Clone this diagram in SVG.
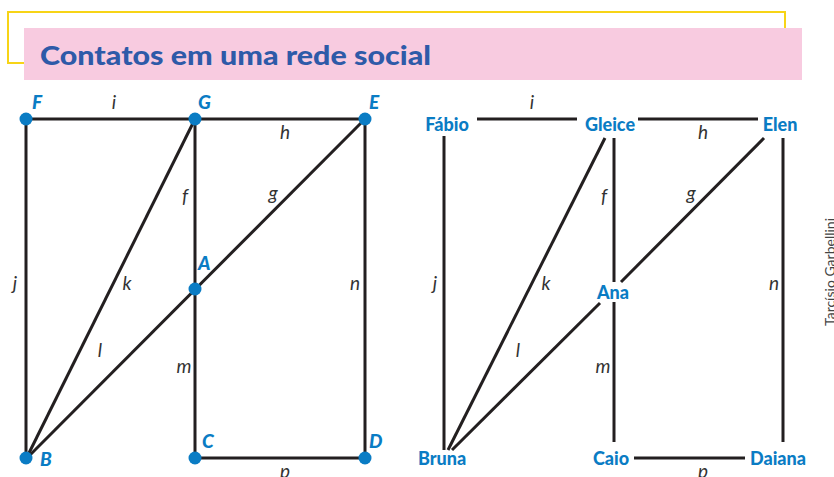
<svg xmlns="http://www.w3.org/2000/svg" width="834" height="477" viewBox="0 0 834 477">
<style>
.e{stroke:#231f20;stroke-width:3;fill:none;stroke-linecap:butt}
.dot{fill:#0a7cc4}
.nl{font-family:Lato,"Liberation Sans",sans-serif;font-weight:900;font-style:italic;font-size:19px;fill:#0a7cc4}
.nr{font-family:Lato,"Liberation Sans",sans-serif;font-weight:900;font-size:18px;fill:#0a7cc4;text-anchor:middle}
.el{font-family:Lato,"Liberation Sans",sans-serif;font-style:italic;font-weight:400;font-size:19px;fill:#333;text-anchor:middle}
</style>
<rect width="834" height="477" fill="#fff"/>
<g id="header">
<path d="M24,63 H8 V12 H785 V28" fill="none" stroke="#f7d417" stroke-width="2"/>
<rect x="24" y="28" width="778" height="52" fill="#f8cbe0"/>
<text x="40" y="65" font-family="Lato,'Liberation Sans',sans-serif" font-weight="900" font-size="26" fill="#2e5aa8" textLength="391" lengthAdjust="spacingAndGlyphs">Contatos em uma rede social</text>
</g>
<g id="connectors">
<line class="e" x1="26" y1="119" x2="365" y2="119"/>
<line class="e" x1="26" y1="119" x2="26" y2="458"/>
<line class="e" x1="195" y1="119" x2="195" y2="458"/>
<line class="e" x1="365" y1="119" x2="365" y2="458"/>
<line class="e" x1="195" y1="458" x2="365" y2="458"/>
<line class="e" x1="195" y1="119" x2="27" y2="457"/>
<line class="e" x1="365" y1="119" x2="28" y2="457"/>
<line class="e" x1="477" y1="119" x2="577" y2="119"/>
<line class="e" x1="638" y1="119" x2="758" y2="119"/>
<line class="e" x1="444" y1="136" x2="444" y2="450"/>
<line class="e" x1="614" y1="138" x2="614" y2="282"/>
<line class="e" x1="605" y1="138" x2="448" y2="450"/>
<line class="e" x1="764" y1="138" x2="621" y2="282"/>
<line class="e" x1="783" y1="138" x2="783" y2="442"/>
<line class="e" x1="614" y1="302" x2="614" y2="442"/>
<line class="e" x1="600" y1="303" x2="452" y2="450"/>
<line class="e" x1="634" y1="458" x2="745" y2="458"/>
</g>
<g id="edge-labels">
<text class="el" x="114" y="109">i</text>
<text class="el" x="285" y="139">h</text>
<text class="el" x="185" y="203">f</text>
<text class="el" x="273" y="200">g</text>
<text class="el" x="15" y="290">j</text>
<text class="el" x="127" y="290">k</text>
<text class="el" x="355" y="290">n</text>
<text class="el" x="100" y="357">l</text>
<text class="el" x="184" y="373">m</text>
<text class="el" x="285" y="478">p</text>
<text class="el" x="532" y="109">i</text>
<text class="el" x="703" y="139">h</text>
<text class="el" x="604" y="203">f</text>
<text class="el" x="691" y="200">g</text>
<text class="el" x="435" y="290">j</text>
<text class="el" x="546" y="290">k</text>
<text class="el" x="774" y="290">n</text>
<text class="el" x="518" y="357">l</text>
<text class="el" x="603" y="373">m</text>
<text class="el" x="703" y="478">p</text>
</g>
<g id="F"><circle class="dot" cx="26" cy="119" r="6.5"/><text class="nl" x="32" y="109">F</text></g>
<g id="G"><circle class="dot" cx="195" cy="119" r="6.5"/><text class="nl" x="198" y="109">G</text></g>
<g id="E"><circle class="dot" cx="365" cy="119" r="6.5"/><text class="nl" x="369" y="109">E</text></g>
<g id="A"><circle class="dot" cx="195" cy="289" r="6.5"/><text class="nl" x="198" y="270">A</text></g>
<g id="B"><circle class="dot" cx="26" cy="458" r="6.5"/><text class="nl" x="40" y="466">B</text></g>
<g id="C"><circle class="dot" cx="195" cy="458" r="6.5"/><text class="nl" x="202" y="448">C</text></g>
<g id="D"><circle class="dot" cx="365" cy="458" r="6.5"/><text class="nl" x="369" y="448">D</text></g>
<g id="Fabio"><text class="nr" x="447" y="131">Fábio</text></g>
<g id="Gleice"><text class="nr" x="610" y="131">Gleice</text></g>
<g id="Elen"><text class="nr" x="780" y="131">Elen</text></g>
<g id="Ana"><text class="nr" x="613" y="299">Ana</text></g>
<g id="Bruna"><text class="nr" x="442" y="465">Bruna</text></g>
<g id="Caio"><text class="nr" x="611" y="465">Caio</text></g>
<g id="Daiana"><text class="nr" x="778" y="465">Daiana</text></g>
<text x="835" y="326" transform="rotate(-90 835 326)" font-family="Lato,'Liberation Sans',sans-serif" font-size="14" fill="#444">Tarcísio Garbellini</text>
</svg>
